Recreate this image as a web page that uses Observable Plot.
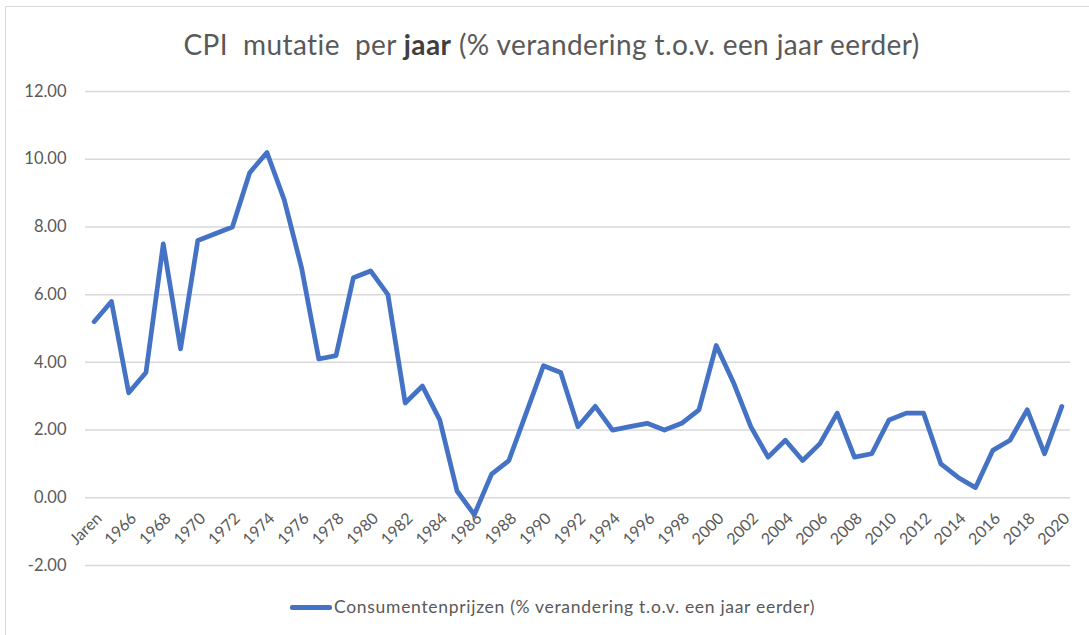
<!DOCTYPE html>
<html>
<head>
<meta charset="utf-8">
<script src="https://cdn.jsdelivr.net/npm/d3@7"></script>
<script src="https://cdn.jsdelivr.net/npm/@observablehq/plot@0.6"></script>
<style>
  body { margin: 0; background: #fff; font-family: Lato, "Open Sans", sans-serif; }
  #wrap { position: relative; width: 1089px; height: 635px; overflow: hidden; }
  #border { position: absolute; left: 5px; top: 6px; width: 1200px; height: 800px; border: 1.5px solid #d9d9d9; }
  #title { position: relative; height: 78px; box-sizing: border-box; padding-top: 27px; padding-left: 14px; text-align: center; white-space: pre; font-size: 28px; letter-spacing: 0.4px; line-height: 34px; color: #595959; }
  #title b { font-weight: 700; color: #404040; }
  #chart { position: relative; height: 514px; }
  #legend { position: relative; height: 43px; }
  #legend .sw { position: absolute; left: 290px; top: 13px; width: 42px; height: 4.75px; background: #4472C4; border-radius: 2px; }
  #legend .tx { position: absolute; left: 334px; top: 3px; font-size: 17.5px; letter-spacing: 0.7px; line-height: 24px; color: #595959; white-space: pre; }
</style>
</head>
<body>
<div id="wrap">
  <div id="border"></div>
  <div id="title">CPI  mutatie  per <b>jaar</b> (% verandering t.o.v. een jaar eerder)</div>
  <div id="chart"></div>
  <div id="legend"><div class="sw"></div><div class="tx">Consumentenprijzen (% verandering t.o.v. een jaar eerder)</div></div>
</div>
<script>
const categories = ["Jaren","1965","1966","1967","1968","1969","1970","1971","1972","1973","1974","1975","1976","1977","1978","1979","1980","1981","1982","1983","1984","1985","1986","1987","1988","1989","1990","1991","1992","1993","1994","1995","1996","1997","1998","1999","2000","2001","2002","2003","2004","2005","2006","2007","2008","2009","2010","2011","2012","2013","2014","2015","2016","2017","2018","2019","2020"];
const cpiValues = [5.2,5.8,3.1,3.7,7.5,4.4,7.6,7.8,8.0,9.6,10.2,8.8,6.8,4.1,4.2,6.5,6.7,6.0,2.8,3.3,2.3,0.2,-0.5,0.7,1.1,2.5,3.9,3.7,2.1,2.7,2.0,2.1,2.2,2.0,2.2,2.6,4.5,3.4,2.1,1.2,1.7,1.1,1.6,2.5,1.2,1.3,2.3,2.5,2.5,1.0,0.6,0.3,1.4,1.7,2.6,1.3,2.7];
const xTickLabels = ["Jaren","1966","1968","1970","1972","1974","1976","1978","1980","1982","1984","1986","1988","1990","1992","1994","1996","1998","2000","2002","2004","2006","2008","2010","2012","2014","2016","2018","2020"];
const yTicks = [-2,0,2,4,6,8,10,12];

const data = categories.map((c, i) => ({cat: c, v: cpiValues[i]}));
const xLabelData = xTickLabels.map(c => ({cat: c, v: 0}));

const chart = Plot.plot({
  width: 1089,
  height: 514,
  marginTop: 13,
  marginBottom: 27,
  marginLeft: 85,
  marginRight: 19,
  style: {fontFamily: "Lato, 'Open Sans', sans-serif", background: "transparent"},
  x: {type: "point", domain: categories, padding: 0.5, round: false, axis: null},
  y: {domain: [-2, 12], axis: null},
  marks: [
    Plot.ruleY(yTicks, {stroke: "#d9d9d9", strokeWidth: 1.5}),
    Plot.axisY({ticks: yTicks, tickFormat: d => d.toFixed(2), tickSize: 0, tickPadding: 19, fontSize: 16.5, color: "#595959", label: null}),
    Plot.text(xLabelData, {x: "cat", y: "v", text: "cat", rotate: -45, textAnchor: "end", dx: 5, dy: 18, fontSize: 16, fill: "#595959"}),
    Plot.lineY(data, {x: "cat", y: "v", stroke: "#4472C4", strokeWidth: 4.75, strokeLinejoin: "round", strokeLinecap: "round"})
  ]
});
document.getElementById("chart").appendChild(chart);
</script>
</body>
</html>
